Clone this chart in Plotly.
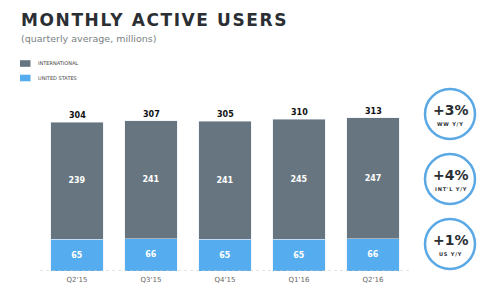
import plotly.graph_objects as go

quarters = ["Q2'15", "Q3'15", "Q4'15", "Q1'16", "Q2'16"]
intl = [239, 241, 241, 245, 247]
us = [65, 66, 65, 65, 66]
totals = [304, 307, 305, 310, 313]
growth_values = ["+3%", "+4%", "+1%"]
growth_labels = ["WW Y/Y", "INT'L Y/Y", "US Y/Y"]

W, H = 490, 289
L, R, T, B = 40, 80, 110, 18
PW, PH = W - L - R, H - T - B

def px(x):
    return (x - L) / PW

def py(y):
    return (H - B - y) / PH

INTL_C = "#66757f"
US_C = "#55acee"
DARK = "#2b2f33"
FONT = "DejaVu Sans"

fig = go.Figure()
fig.add_trace(go.Bar(
    x=quarters, y=us, name="UNITED STATES", marker_color=US_C,
    text=[str(v) for v in us], textposition="inside", insidetextanchor="middle",
    textfont=dict(family=FONT, size=8, color="white", weight="bold"),
    textangle=0, hoverinfo="skip"))
fig.add_trace(go.Bar(
    x=quarters, y=intl, name="INTERNATIONAL", marker_color=INTL_C,
    text=[str(v) for v in intl], textposition="inside", insidetextanchor="middle",
    textfont=dict(family=FONT, size=8, color="white", weight="bold"),
    textangle=0, hoverinfo="skip"))

annotations = []
for q, a, b, t in zip(quarters, intl, us, totals):
    annotations.append(dict(x=q, y=a + b, text=str(t), showarrow=False,
                            yanchor="bottom", yshift=0,
                            font=dict(family=FONT, size=8, color="#111", weight="bold")))

# Title and subtitle
annotations.append(dict(xref="paper", yref="paper", x=px(19), y=py(20),
                        xanchor="left", yanchor="middle", showarrow=False,
                        text='<span style="letter-spacing:1.6px">MONTHLY ACTIVE USERS</span>',
                        font=dict(family=FONT, size=17, color=DARK, weight="bold")))
annotations.append(dict(xref="paper", yref="paper", x=px(19), y=py(38),
                        xanchor="left", yanchor="middle", showarrow=False,
                        text="(quarterly average, millions)",
                        font=dict(family=FONT, size=9.5, color="#7a7f83")))

shapes = []
# Legend
legend_items = [("INTERNATIONAL", INTL_C, 63.5), ("UNITED STATES", US_C, 78)]
for label, col, yc in legend_items:
    shapes.append(dict(type="rect", xref="paper", yref="paper",
                       x0=px(20), x1=px(30.5), y0=py(yc - 3.3), y1=py(yc + 3.3),
                       fillcolor=col, line=dict(width=0)))
    annotations.append(dict(xref="paper", yref="paper", x=px(35.5), y=py(yc),
                            xanchor="left", yanchor="middle", showarrow=False,
                            text=label,
                            font=dict(family=FONT, size=5, color="#444")))

# Growth circles
centers = [114, 179, 244]
for val, lab, cy in zip(growth_values, growth_labels, centers):
    shapes.append(dict(type="circle", xref="paper", yref="paper",
                       xsizemode="pixel", ysizemode="pixel",
                       xanchor=px(450), yanchor=py(cy),
                       x0=-25, x1=25, y0=-25, y1=25,
                       line=dict(color="#5aa8e4", width=2.5), fillcolor="white"))
    annotations.append(dict(xref="paper", yref="paper", x=px(450.5), y=py(cy - 4),
                            xanchor="center", yanchor="middle", showarrow=False,
                            text=val,
                            font=dict(family=FONT, size=14, color=DARK, weight="bold")))
    annotations.append(dict(xref="paper", yref="paper", x=px(450.5), y=py(cy + 10),
                            xanchor="center", yanchor="middle", showarrow=False,
                            text='<span style="letter-spacing:0.8px">' + lab + '</span>',
                            font=dict(family=FONT, size=5, color=DARK, weight="bold")))

# Dotted baseline
shapes.append(dict(type="line", xref="paper", yref="y", x0=0, x1=1, y0=0, y1=0,
                   line=dict(color="#c8c8c8", width=1, dash="dot")))

fig.update_layout(
    width=W, height=H,
    margin=dict(l=L, r=R, t=T, b=B, autoexpand=False),
    barmode="stack", bargap=0.284,
    showlegend=False,
    plot_bgcolor="white", paper_bgcolor="white",
    xaxis=dict(type="category", range=[-0.5, 4.5], showgrid=False, showline=False,
               zeroline=False, ticks="", automargin=False, ticklabelstandoff=3,
               tickfont=dict(family=FONT, size=7, color="#666")),
    yaxis=dict(range=[0, 329], visible=False, showgrid=False, zeroline=False,
               automargin=False),
    annotations=annotations, shapes=shapes,
    font=dict(family=FONT),
)

fig.write_html("out.html")
